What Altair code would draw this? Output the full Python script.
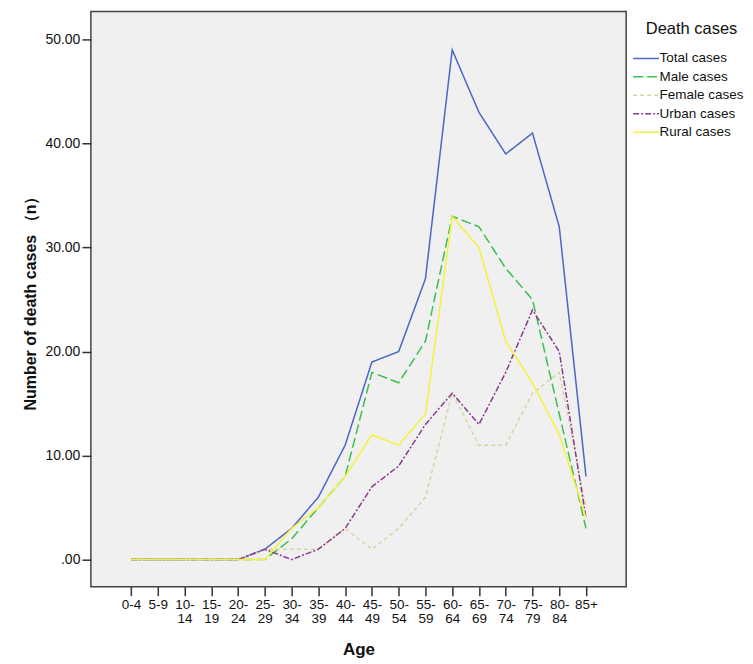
import altair as alt
import pandas as pd

ages = ["0-4", "5-9", "10-|14", "15-|19", "20-|24", "25-|29", "30-|34", "35-|39",
        "40-|44", "45-|49", "50-|54", "55-|59", "60-|64", "65-|69", "70-|74",
        "75-|79", "80-|84", "85+"]
series_names = ["Total cases", "Male cases", "Female cases", "Urban cases", "Rural cases"]
total = [0, 0, 0, 0, 0, 1, 3, 6, 11, 19, 20, 27, 49, 43, 39, 41, 32, 8]
male = [0, 0, 0, 0, 0, 0, 2, 5, 8, 18, 17, 21, 33, 32, 28, 25, 14, 3]
female = [0, 0, 0, 0, 0, 1, 1, 1, 3, 1, 3, 6, 16, 11, 11, 16, 18, 5]
urban = [0, 0, 0, 0, 0, 1, 0, 1, 3, 7, 9, 13, 16, 13, 18, 24, 20, 4]
rural = [0, 0, 0, 0, 0, 0, 3, 5, 8, 12, 11, 14, 33, 30, 21, 17, 12, 4]

colors = ["#4a68c4", "#3dbf4f", "#d8d3a6", "#8a3a8c", "#f4f23c"]
dashes = [[1, 0], [10, 4], [4, 3], [6, 2, 2, 2], [1, 0]]

rows = []
for name, vals in zip(series_names, [total, male, female, urban, rural]):
    for i, v in enumerate(vals):
        rows.append({"idx": i, "value": v, "series": name, "ord": series_names.index(name)})
df = pd.DataFrame(rows)

label_arr = "[" + ",".join("'" + a + "'" for a in ages) + "]"
x_label_expr = "split(" + label_arr + "[datum.value], '|')"

leg = alt.Legend(
    title="Death cases", orient="none", legendX=548.5, legendY=10,
    titleFontSize=16.5, titleFontWeight="normal", titleFont="Liberation Sans",
    titleColor="#111", titleAnchor="middle", titlePadding=13,
    labelFontSize=13.5, labelFont="Liberation Sans", labelColor="#111",
    symbolType="M-2,0H2", symbolSize=169, symbolStrokeWidth=1.5,
    labelOffset=6, rowPadding=4.5, padding=0,
)

chart = alt.Chart(df).mark_line(strokeWidth=1.5).encode(
    x=alt.X("idx:Q",
            scale=alt.Scale(domain=[-1.5, 18.5], nice=False, zero=False),
            axis=alt.Axis(values=list(range(18)), labelExpr=x_label_expr, title="Age",
                          grid=False, domain=False, tickSize=9, tickWidth=1.5, tickColor="#333",
                          labelFont="Liberation Sans", labelFontSize=13.5, labelColor="#111",
                          labelLineHeight=14, labelPadding=2, labelOverlap=False, labelFlush=False,
                          titleFont="Liberation Sans", titleFontSize=17, titleFontWeight="bold",
                          titleColor="#111", titlePadding=16)),
    y=alt.Y("value:Q",
            scale=alt.Scale(domain=[-2.6, 52.7], nice=False, zero=False),
            axis=alt.Axis(values=[0, 10, 20, 30, 40, 50],
                          labelExpr="datum.value == 0 ? '.00' : format(datum.value, '.2f')",
                          title="Number of death cases （n）",
                          grid=False, domain=False, tickSize=9, tickWidth=1.5, tickColor="#333",
                          labelFont="Liberation Sans", labelFontSize=14, labelColor="#111",
                          labelPadding=2,
                          titleFont="Liberation Sans", titleFontSize=16, titleFontWeight="bold",
                          titleColor="#111", titlePadding=6)),
    color=alt.Color("series:N", scale=alt.Scale(domain=series_names, range=colors),
                    sort=series_names, legend=leg),
    strokeDash=alt.StrokeDash("series:N", scale=alt.Scale(domain=series_names, range=dashes),
                              sort=series_names, legend=leg),
    order=alt.Order("ord:Q"),
).properties(
    width=536, height=576,
    padding={"left": 14, "top": 3, "right": 0, "bottom": 5},
).configure(
    background="white"
).configure_view(
    stroke="#444", strokeWidth=1.5, fill="#f0f0f0"
)

chart.save("out.html", embed_options={"renderer": "svg", "actions": False})
